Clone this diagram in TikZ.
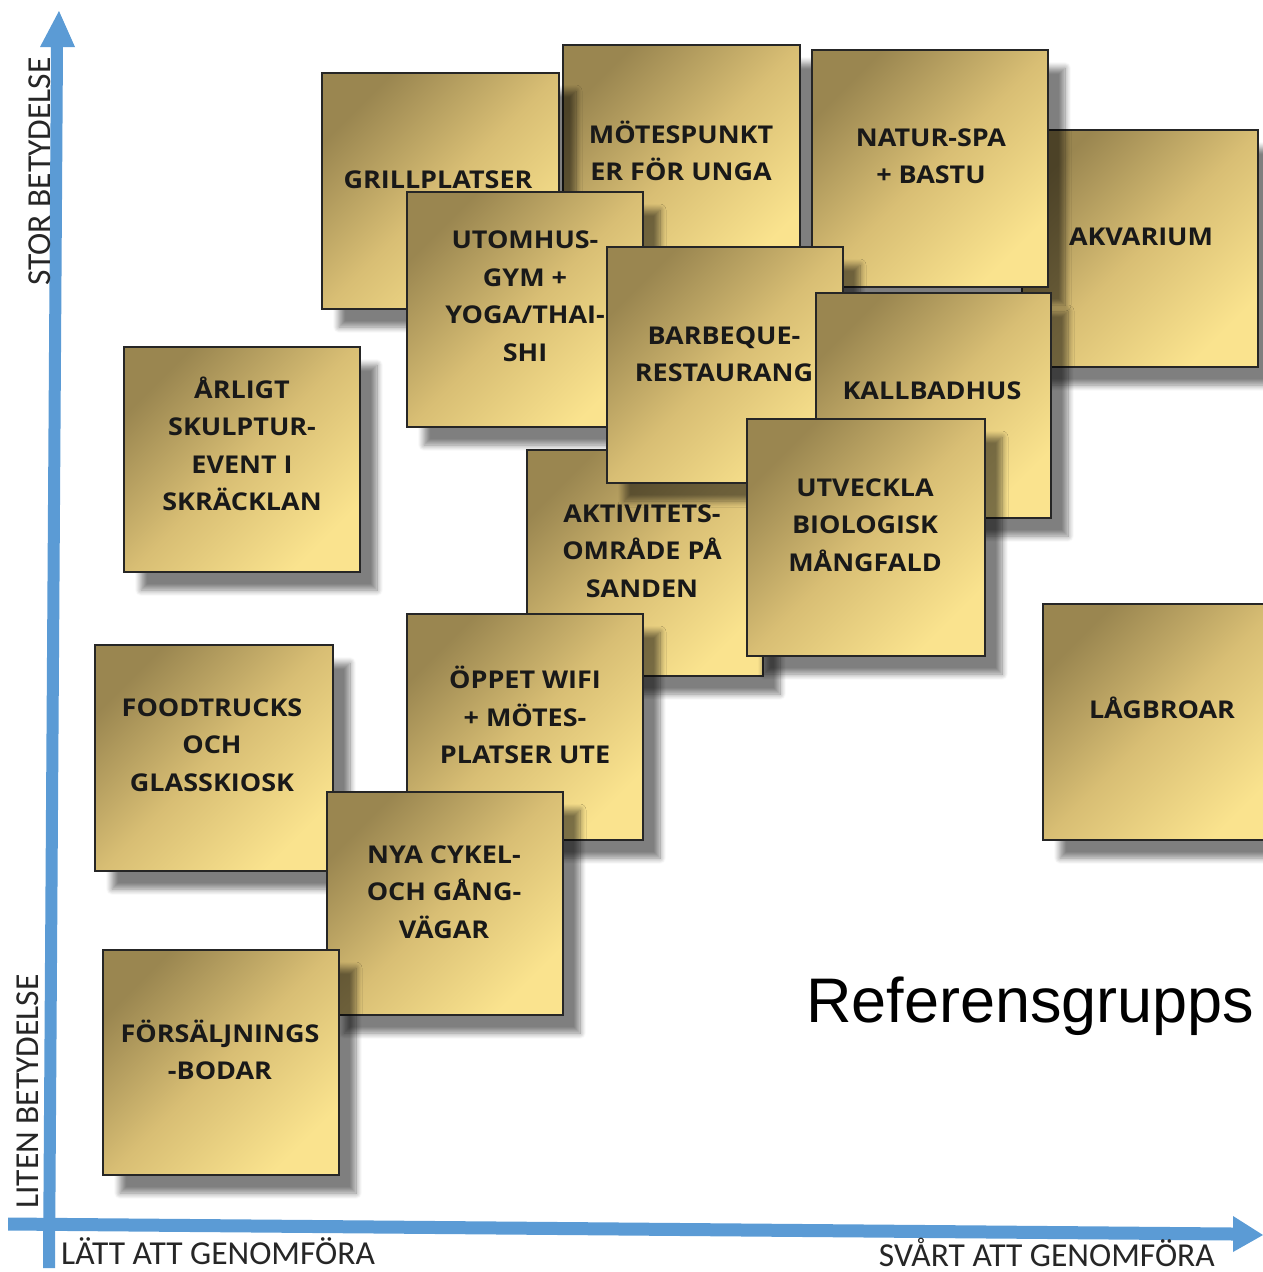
\documentclass[tikz,border=0pt]{standalone}
\usepackage{fontspec}
\setmainfont{Open Sans}
\newfontfamily\axisfont{Carlito}
\newfontfamily\reffont{Liberation Sans}
\usetikzlibrary{shadows.blur}
\definecolor{axisblue}{HTML}{5B9BD5}
\definecolor{notedark}{HTML}{9A8650}
\definecolor{notemid}{HTML}{D8BE74}
\definecolor{notelight}{HTML}{FAE38E}
\tikzset{
  notebox/.style={draw=black!85, line width=1.3pt, inner sep=0pt, outer sep=0pt,
    top color=notedark, bottom color=notelight, middle color=notemid, shading angle=45,
    blur shadow={shadow xshift=17pt, shadow yshift=-18pt, shadow blur steps=10,
      shadow blur radius=6pt, shadow opacity=50}},
  notetext/.style={align=center, inner sep=0pt, xscale=1.1, transform shape,
    font=\bfseries\fontsize{24.5}{37.5}\selectfont, text=black!90},
  axislabel/.style={inner sep=0pt, font=\axisfont\fontsize{33.5}{33.5}\selectfont, text=black!85},
}
\newcommand\stickynote[7]{%
  \node[notebox, minimum width={#4-#2}, minimum height={#5-#3}] (#1) at ({(#2+#4)/2},{(#3+#5)/2}) {};
  \node[notetext] (#1-t) at #6 {#7};
}
\begin{document}
\begin{tikzpicture}[x=1pt, y=-1pt]
\useasboundingbox (0,0) rectangle (1263,1272);
\clip (0,0) rectangle (1263,1272);
% axes
\coordinate (vb) at (49,1268);
\coordinate (vt) at (57,47);
\coordinate (vtip) at (59,11);
\coordinate (hl) at (8,1224);
\coordinate (hr) at (1233,1234);
\coordinate (htip) at (1263,1235);
\fill[axisblue] ($(vb)+(-6,0)$) -- ($(vb)+(6,0)$) -- ($(vt)+(6,0)$) -- ($(vt)+(18,0)$) -- (vtip) -- ($(vt)+(-17,0)$) -- ($(vt)+(-6,0)$) -- cycle;
\fill[axisblue] ($(hl)+(0,-6.5)$) -- ($(hr)+(0,-6.5)$) -- ($(hr)+(0,-18)$) -- (htip) -- ($(hr)+(0,18)$) -- ($(hr)+(0,6.5)$) -- ($(hl)+(0,6.5)$) -- cycle;
\node[axislabel, anchor=base west] (easy) at (61,1264) {LÄTT ATT GENOMFÖRA};
\node[axislabel, anchor=base east] (hard) at (1215,1266) {SVÅRT ATT GENOMFÖRA};
\node[axislabel, anchor=base west, rotate=90] (big) at (50,286) {STOR BETYDELSE};
\node[axislabel, anchor=base west, rotate=90] (small) at (38,1209) {LITEN BETYDELSE};
% notes (back to front)
\stickynote{motes}{563}{45}{800}{281}{(681,151)}{MÖTESPUNKT\\ER FÖR UNGA}
\stickynote{grill}{322}{73}{559}{309}{(438,180)}{GRILLPLATSER}
\stickynote{utomhus}{407}{192}{643}{427}{(525,296)}{UTOMHUS-\\GYM +\\YOGA/THAI-\\SHI}
\stickynote{akvarium}{1022}{130}{1258}{367}{(1141,237)}{AKVARIUM}
\stickynote{natur}{812}{50}{1048}{287}{(931,156)}{NATUR-SPA\\+ BASTU}
\stickynote{aktiv}{527}{450}{763}{676}{(642,551)}{AKTIVITETS-\\OMRÅDE PÅ\\SANDEN}
\stickynote{barbeque}{607}{247}{843}{483}{(724,354)}{BARBEQUE-\\RESTAURANG}
\stickynote{kall}{816}{293}{1051}{518}{(932,391)}{KALLBADHUS}
\stickynote{utveckla}{747}{419}{985}{656}{(865,525)}{UTVECKLA\\BIOLOGISK\\MÅNGFALD}
\stickynote{arligt}{124}{347}{360}{572}{(242,444)}{ÅRLIGT\\SKULPTUR-\\EVENT I\\SKRÄCKLAN}
\stickynote{oppet}{407}{614}{643}{840}{(525,715)}{ÖPPET WIFI\\+ MÖTES-\\PLATSER UTE}
\stickynote{food}{95}{645}{333}{871}{(212,745)}{FOODTRUCKS\\OCH\\GLASSKIOSK}
\stickynote{cykel}{327}{792}{563}{1015}{(444,892)}{NYA CYKEL-\\OCH GÅNG-\\VÄGAR}
\stickynote{forsalj}{103}{950}{339}{1175}{(220,1050)}{FÖRSÄLJNINGS\\-BODAR}
\stickynote{lagbro}{1043}{604}{1281}{840}{(1162,708)}{LÅGBROAR}
\node[anchor=base west, inner sep=0pt, font=\reffont\fontsize{63}{63}\selectfont] (ref) at (806,1022) {Referensgrupps};
\end{tikzpicture}
\end{document}
